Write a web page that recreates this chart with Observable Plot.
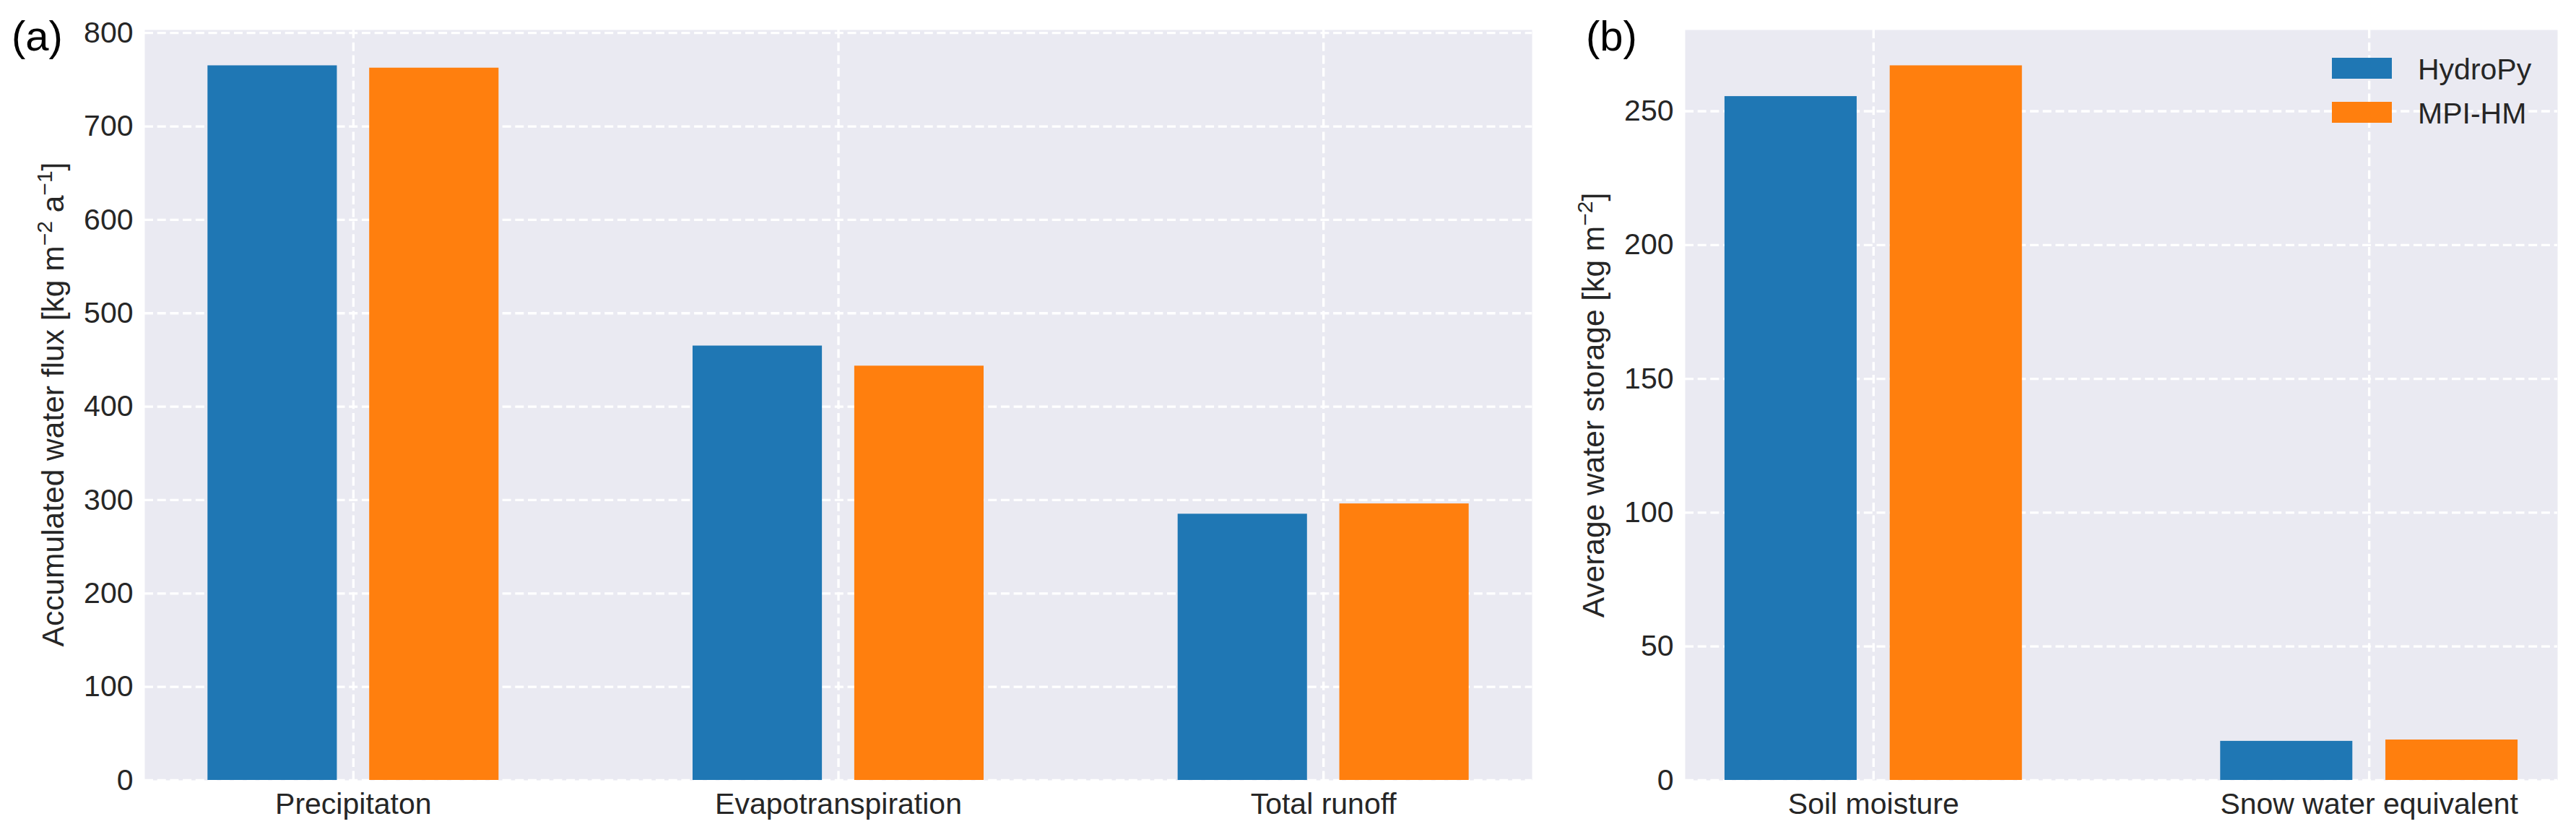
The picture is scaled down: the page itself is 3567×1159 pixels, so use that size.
<!DOCTYPE html>
<html>
<head>
<meta charset="utf-8">
<script src="https://cdn.jsdelivr.net/npm/d3@7"></script>
<script src="https://cdn.jsdelivr.net/npm/@observablehq/plot@0.6"></script>
<style>
  html, body { margin: 0; padding: 0; background: #ffffff; }
  #wrap { display: flex; width: 3567px; height: 1159px; }
  #wrap svg { display: block; flex: none; }
</style>
</head>
<body>
<div id="wrap"></div>
<script>
// ---- data ----
const series = ["HydroPy", "MPI-HM"];
const seriesColors = ["#1f77b4", "#ff7f0e"];

const fluxCategories = ["Precipitaton", "Evapotranspiration", "Total runoff"];
const fluxHydroPy = [765, 465, 285];
const fluxMPIHM = [762.5, 443.5, 296];
const fluxTicks = [0, 100, 200, 300, 400, 500, 600, 700, 800];

const storageCategories = ["Soil moisture", "Snow water equivalent"];
const storageHydroPy = [255.5, 14.6];
const storageMPIHM = [267, 15.1];
const storageTicks = [0, 50, 100, 150, 200, 250];

// ---- style ----
const FONT = '"Liberation Sans", Arial, Helvetica, sans-serif';
const TEXT = "#262626";
const BG = "#eaeaf2";
const GRID = { stroke: "#ffffff", strokeWidth: 3.3, strokeDasharray: "12,5.7" };
const barWidth = 0.8 / 3;
const barShift = 1 / 6;
const H = 1159;

function rowsOf(cats, a, b) {
  return cats.flatMap((c, i) => [
    { category: c, i, series: series[0], value: a[i], shift: -barShift },
    { category: c, i, series: series[1], value: b[i], shift: barShift }
  ]);
}

function panel({ cats, a, b, ticks, width, marginLeft, marginRight }) {
  const rows = rowsOf(cats, a, b);
  const lo = -barShift - barWidth / 2;
  const hi = cats.length - 1 + barShift + barWidth / 2;
  const pad = 0.05 * (hi - lo);
  const ymax = d3.max(rows, d => d.value) * 1.05;
  const idx = cats.map((_, i) => i);
  return Plot.plot({
    width, height: H, marginLeft, marginRight, marginTop: 41, marginBottom: 79,
    style: { fontFamily: FONT, fontSize: "41px", color: TEXT, background: "transparent", overflow: "visible" },
    x: { type: "linear", domain: [lo - pad, hi + pad], ticks: idx, tickFormat: i => cats[i], tickSize: 0, tickPadding: 17, label: null },
    y: { domain: [0, ymax], ticks, tickSize: 0, tickPadding: 16, label: null },
    color: { domain: series, range: seriesColors },
    marks: [
      Plot.frame({ fill: BG, stroke: "none" }),
      Plot.ruleY(ticks, GRID),
      Plot.ruleX(idx, GRID),
      Plot.rectY(rows, {
        x1: d => d.i + d.shift - barWidth / 2,
        x2: d => d.i + d.shift + barWidth / 2,
        y1: 0,
        y2: "value",
        fill: "series"
      })
    ]
  });
}

function yLabel(svg, x, y, parts) {
  const t = d3.select(svg).append("text")
    .attr("transform", `translate(${x},${y}) rotate(-90)`)
    .attr("text-anchor", "middle")
    .attr("fill", TEXT)
    .attr("font-family", FONT)
    .attr("font-size", 42.5);
  parts.forEach(([s, sup], k) => {
    const prevSup = k > 0 && parts[k - 1][1];
    const ts = t.append("tspan").text(s);
    if (sup) ts.attr("font-size", 30).attr("dy", -16);
    else if (prevSup) ts.attr("dy", 16);
  });
}

function panelTag(svg, x, y, s) {
  d3.select(svg).append("text")
    .attr("x", x).attr("y", y)
    .attr("text-anchor", "start")
    .attr("fill", "#000000")
    .attr("font-family", FONT)
    .attr("font-size", 58)
    .text(s);
}

const svgA = panel({
  cats: fluxCategories, a: fluxHydroPy, b: fluxMPIHM, ticks: fluxTicks,
  width: 2130, marginLeft: 200, marginRight: 9
});
yLabel(svgA, 88, 560, [["Accumulated water flux [kg m"], ["\u22122", true], [" a"], ["\u22121", true], ["]"]]);
panelTag(svgA, 16, 70, "(a)");

const svgB = panel({
  cats: storageCategories, a: storageHydroPy, b: storageMPIHM, ticks: storageTicks,
  width: 1437, marginLeft: 203, marginRight: 26
});
yLabel(svgB, 91, 561, [["Average water storage [kg m"], ["\u22122", true], ["]"]]);
panelTag(svgB, 66, 70, "(b)");

// legend (inside panel b, upper right)
const lg = d3.select(svgB).append("g")
  .attr("font-family", FONT).attr("font-size", 41).attr("fill", TEXT).attr("text-anchor", "start");
series.forEach((s, k) => {
  lg.append("rect").attr("x", 1099).attr("y", 80 + k * 61).attr("width", 83).attr("height", 29).attr("fill", seriesColors[k]);
  lg.append("text").attr("x", 1218).attr("y", 110 + k * 61).text(s);
});

document.getElementById("wrap").append(svgA, svgB);
</script>
</body>
</html>
